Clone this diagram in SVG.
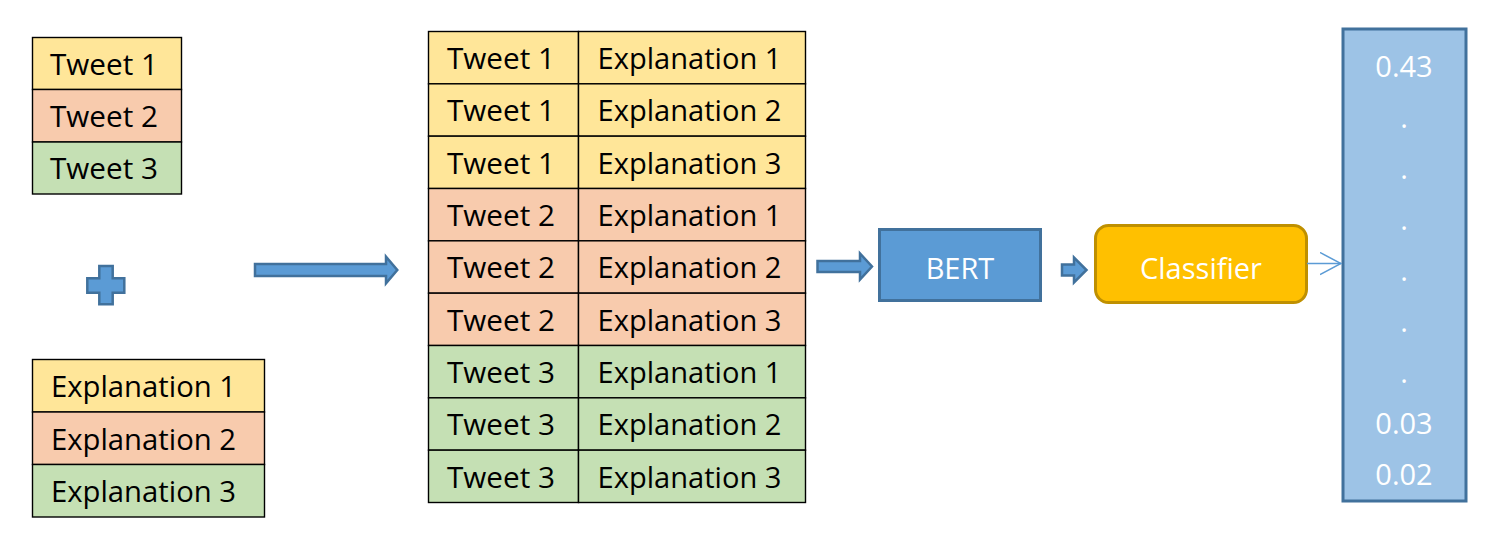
<svg xmlns="http://www.w3.org/2000/svg" width="1505" height="545" viewBox="0 0 1505 545">
<defs>
<style>
.y{fill:#FFE699;stroke:#000;stroke-width:1.4}
.o{fill:#F8CBAD;stroke:#000;stroke-width:1.4}
.g{fill:#C5E0B4;stroke:#000;stroke-width:1.4}
.t{font-family:"Open Sans","Liberation Sans",sans-serif;font-size:29px;fill:#000}
.w{font-family:"Open Sans","Liberation Sans",sans-serif;font-size:29px;fill:#fff}
.blk{fill:#5B9BD5;stroke:#41719C;stroke-width:2.5;stroke-linejoin:miter}
</style>
<marker id="open" viewBox="0 0 22 24" refX="21" refY="12" markerWidth="22" markerHeight="24" markerUnits="userSpaceOnUse" orient="auto">
<path d="M0,1 L21,12 L0,23" fill="none" stroke="#5B9BD5" stroke-width="1.5"/>
</marker>
</defs>
<rect width="1505" height="545" fill="#fff"/>

<g id="tweets">
<rect class="y" x="32.5" y="37.5" width="149" height="52"/>
<rect class="o" x="32.5" y="89.5" width="149" height="52.5"/>
<rect class="g" x="32.5" y="142" width="149" height="52"/>
<text class="t" x="50" y="74.5" textLength="108" lengthAdjust="spacingAndGlyphs">Tweet 1</text>
<text class="t" x="50" y="127" textLength="108" lengthAdjust="spacingAndGlyphs">Tweet 2</text>
<text class="t" x="50" y="179" textLength="108" lengthAdjust="spacingAndGlyphs">Tweet 3</text>
</g>

<g id="plus">
<path class="blk" d="M99.3,266 H112.7 V278.3 H124.3 V292.7 H112.7 V304.3 H99.3 V292.7 H87.3 V278.3 H99.3 Z"/>
</g>

<g id="explanations">
<rect class="y" x="32.5" y="359.5" width="232" height="52.5"/>
<rect class="o" x="32.5" y="412" width="232" height="52.5"/>
<rect class="g" x="32.5" y="464.5" width="232" height="52.5"/>
<text class="t" x="51" y="397" textLength="185" lengthAdjust="spacingAndGlyphs">Explanation 1</text>
<text class="t" x="51" y="449.5" textLength="185" lengthAdjust="spacingAndGlyphs">Explanation 2</text>
<text class="t" x="51" y="502" textLength="185" lengthAdjust="spacingAndGlyphs">Explanation 3</text>
</g>

<g id="pairs">
<rect class="y" x="428.5" y="31.5" width="150" height="52.33"/>
<rect class="y" x="578.5" y="31.5" width="227" height="52.33"/>
<rect class="y" x="428.5" y="83.83" width="150" height="52.33"/>
<rect class="y" x="578.5" y="83.83" width="227" height="52.33"/>
<rect class="y" x="428.5" y="136.17" width="150" height="52.33"/>
<rect class="y" x="578.5" y="136.17" width="227" height="52.33"/>
<rect class="o" x="428.5" y="188.5" width="150" height="52.33"/>
<rect class="o" x="578.5" y="188.5" width="227" height="52.33"/>
<rect class="o" x="428.5" y="240.83" width="150" height="52.33"/>
<rect class="o" x="578.5" y="240.83" width="227" height="52.33"/>
<rect class="o" x="428.5" y="293.17" width="150" height="52.33"/>
<rect class="o" x="578.5" y="293.17" width="227" height="52.33"/>
<rect class="g" x="428.5" y="345.5" width="150" height="52.33"/>
<rect class="g" x="578.5" y="345.5" width="227" height="52.33"/>
<rect class="g" x="428.5" y="397.83" width="150" height="52.33"/>
<rect class="g" x="578.5" y="397.83" width="227" height="52.33"/>
<rect class="g" x="428.5" y="450.17" width="150" height="52.33"/>
<rect class="g" x="578.5" y="450.17" width="227" height="52.33"/>
<text class="t" x="447" y="69" textLength="108" lengthAdjust="spacingAndGlyphs">Tweet 1</text>
<text class="t" x="597.5" y="69" textLength="184" lengthAdjust="spacingAndGlyphs">Explanation 1</text>
<text class="t" x="447" y="121.3" textLength="108" lengthAdjust="spacingAndGlyphs">Tweet 1</text>
<text class="t" x="597.5" y="121.3" textLength="184" lengthAdjust="spacingAndGlyphs">Explanation 2</text>
<text class="t" x="447" y="173.7" textLength="108" lengthAdjust="spacingAndGlyphs">Tweet 1</text>
<text class="t" x="597.5" y="173.7" textLength="184" lengthAdjust="spacingAndGlyphs">Explanation 3</text>
<text class="t" x="447" y="226" textLength="108" lengthAdjust="spacingAndGlyphs">Tweet 2</text>
<text class="t" x="597.5" y="226" textLength="184" lengthAdjust="spacingAndGlyphs">Explanation 1</text>
<text class="t" x="447" y="278.3" textLength="108" lengthAdjust="spacingAndGlyphs">Tweet 2</text>
<text class="t" x="597.5" y="278.3" textLength="184" lengthAdjust="spacingAndGlyphs">Explanation 2</text>
<text class="t" x="447" y="330.7" textLength="108" lengthAdjust="spacingAndGlyphs">Tweet 2</text>
<text class="t" x="597.5" y="330.7" textLength="184" lengthAdjust="spacingAndGlyphs">Explanation 3</text>
<text class="t" x="447" y="383" textLength="108" lengthAdjust="spacingAndGlyphs">Tweet 3</text>
<text class="t" x="597.5" y="383" textLength="184" lengthAdjust="spacingAndGlyphs">Explanation 1</text>
<text class="t" x="447" y="435.3" textLength="108" lengthAdjust="spacingAndGlyphs">Tweet 3</text>
<text class="t" x="597.5" y="435.3" textLength="184" lengthAdjust="spacingAndGlyphs">Explanation 2</text>
<text class="t" x="447" y="487.7" textLength="108" lengthAdjust="spacingAndGlyphs">Tweet 3</text>
<text class="t" x="597.5" y="487.7" textLength="184" lengthAdjust="spacingAndGlyphs">Explanation 3</text>
</g>

<g id="bert">
<rect x="879.5" y="229.5" width="161" height="71" fill="#5B9BD5" stroke="#41719C" stroke-width="3"/>
<text class="w" x="960" y="278.5" text-anchor="middle">BERT</text>
</g>

<g id="classifier">
<rect x="1095.5" y="225.5" width="211" height="77" rx="13" ry="13" fill="#FFC000" stroke="#BF9000" stroke-width="3"/>
<text class="w" x="1140" y="278.5" textLength="122" lengthAdjust="spacingAndGlyphs">Classifier</text>
</g>

<g id="output">
<rect x="1343" y="29" width="123" height="472" fill="#9DC3E6" stroke="#41719C" stroke-width="3"/>
<g class="w" text-anchor="middle">
<text x="1404" y="77">0.43</text>
<text x="1404" y="128">.</text>
<text x="1404" y="179">.</text>
<text x="1404" y="230">.</text>
<text x="1404" y="281">.</text>
<text x="1404" y="332">.</text>
<text x="1404" y="383">.</text>
<text x="1404" y="434">0.03</text>
<text x="1404" y="485">0.02</text>
</g>
</g>

<g id="connectors">
<path class="blk" d="M255,264 H386 V256.7 L397.3,270 L386,283.3 V276 H255 Z"/>
<path class="blk" d="M817.5,261 H860 V253.5 L872,266.5 L860,279.5 V272 H817.5 Z"/>
<path class="blk" d="M1062,264.5 H1074 V257.5 L1086.5,270 L1074,282.5 V275.5 H1062 Z"/>
<line x1="1307" y1="263.5" x2="1341" y2="263.5" stroke="#5B9BD5" stroke-width="1.5" marker-end="url(#open)"/>
</g>
</svg>
